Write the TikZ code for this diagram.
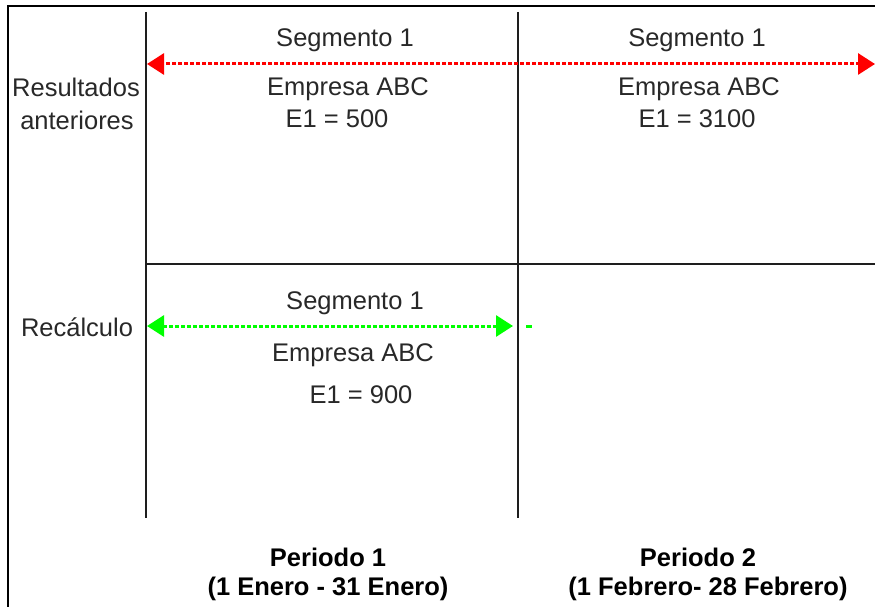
\documentclass[tikz,border=0pt]{standalone}
\usepackage{fontspec}
\setmainfont{Liberation Sans}
\usepackage{xcolor}
\usetikzlibrary{arrows.meta,positioning}
\definecolor{segRed}{RGB}{255,0,0}
\definecolor{segGreen}{RGB}{0,255,0}
\definecolor{gridDark}{RGB}{30,30,30}
\definecolor{lblGray}{RGB}{40,40,40}

\begin{document}
\begin{tikzpicture}[x=1pt,y=-1pt,
    lbl/.style={inner sep=0pt, anchor=base, text=lblGray, font=\fontsize{25.5}{30}\selectfont},
    plbl/.style={lbl, text=black, font=\fontsize{25.5}{30}\selectfont\bfseries},
    gridline/.style={gridDark, line width=2.8pt},
    segarrow/.style={line width=3pt, dash pattern=on 4pt off 2pt, -{Triangle[length=17pt,width=21pt]}},
    segarrows/.style={segarrow, {Triangle[length=17pt,width=21pt]}-{Triangle[length=17pt,width=21pt]}}]
    \useasboundingbox (0,0) rectangle (875,607);
    \fill[white] (0,0) rectangle (875,607);

    % frame
    \coordinate (frameBL) at (8,610);
    \coordinate (frameTR) at (878,6);
    \draw[black, line width=2.8pt] (frameBL) |- (frameTR);

    % grid
    \coordinate (colAtop) at (146,12);
    \coordinate (colAbot) at (146,518);
    \coordinate (colBtop) at (518,12);
    \coordinate (colBbot) at (518,518);
    \coordinate (rowL) at (146,264);
    \coordinate (rowR) at (876,264);
    \draw[gridline] (colAtop) -- (colAbot);
    \draw[gridline] (colBtop) -- (colBbot);
    \draw[gridline] (rowL) -- (rowR);

    % segment arrows
    \coordinate (redL) at (147,64);
    \coordinate (redM) at (518,64);
    \coordinate (redS) at (466,64);
    \coordinate (redR) at (875,64);
    \draw[segarrow, segRed] (redM) -- (redL);
    \draw[segarrow, segRed] (redS) -- (redR);
    \coordinate (greenL) at (147,326);
    \coordinate (greenR) at (513,326);
    \coordinate (greenDashA) at (526,326);
    \coordinate (greenDashB) at (532,326);
    \draw[segarrows, segGreen] (greenL) -- (greenR);
    \draw[segGreen, line width=3pt] (greenDashA) -- (greenDashB);

    % row labels
    \node[lbl] (resultados) at (76,97) {Resultados};
    \node[lbl] (anteriores) at (77,129) {anteriores};
    \node[lbl] (recalculo) at (77,336) {Recálculo};

    % period 1, previous results
    \node[lbl] (segA) at (345,47) {Segmento 1};
    \node[lbl] (empA) at (348,96) {Empresa ABC};
    \node[lbl] (valA) at (337,128) {E1 = 500};

    % period 2, previous results
    \node[lbl] (segB) at (697,47) {Segmento 1};
    \node[lbl] (empB) at (699,96) {Empresa ABC};
    \node[lbl] (valB) at (697,128) {E1 = 3100};

    % period 1, recalculation
    \node[lbl] (segC) at (355,309) {Segmento 1};
    \node[lbl] (empC) at (353,361) {Empresa ABC};
    \node[lbl] (valC) at (361,403) {E1 = 900};

    % periods
    \node[plbl] (perA) at (328,566) {Periodo 1};
    \node[plbl] (datesA) at (328,595) {(1 Enero - 31 Enero)};
    \node[plbl] (perB) at (698,566) {Periodo 2};
    \node[plbl] (datesB) at (708,595) {(1 Febrero- 28 Febrero)};
\end{tikzpicture}
\end{document}
